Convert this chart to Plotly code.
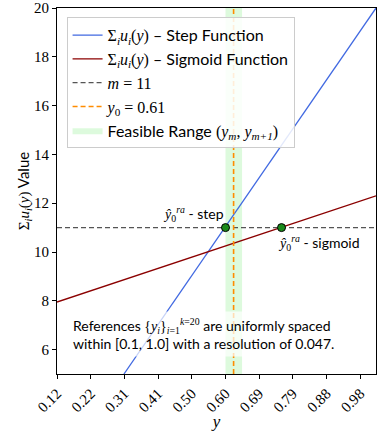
import plotly.graph_objects as go

# ---- data ----
step_x = [0.31, 1.025]
step_y = [5.0, 20.0]
sigmoid_x = [0.12, 1.025]
sigmoid_y = [7.95, 12.3]
m_level = 11
y0_pos = 0.621
band_lo, band_hi = 0.598, 0.645
crossing_x = [0.598, 0.757]
crossing_y = [11, 11]
x_tickvals = [0.12, 0.2156, 0.3111, 0.4067, 0.5022, 0.5978, 0.6933, 0.7889, 0.8844, 0.98]
x_ticktext = ["0.12", "0.22", "0.31", "0.41", "0.50", "0.60", "0.69", "0.79", "0.88", "0.98"]
y_tickvals = [6, 8, 10, 12, 14, 16, 18, 20]
x_range = [0.12, 1.025]
y_range = [5, 20]

SANS = "Lato"
SERIF = "Liberation Serif"


def m(s):
    return '<span style="font-family:%s">%s</span>' % (SERIF, s)


SUM_U = m("Σ<sub><i>i</i></sub><i>u<sub>i</sub></i>(<i>y</i>)")

fig = go.Figure()

# feasible band
fig.add_trace(go.Scatter(
    x=[band_lo, band_hi, band_hi, band_lo, band_lo],
    y=[y_range[0], y_range[0], y_range[1], y_range[1], y_range[0]],
    fill="toself", fillcolor="rgba(144,238,144,0.3)", mode="lines",
    line=dict(width=0, color="rgba(0,0,0,0)"),
    name="Feasible Range " + m("(<i>y<sub>m</sub></i>, <i>y<sub>m+1</sub></i>)"),
    legendrank=5, hoverinfo="skip"))

fig.add_trace(go.Scatter(
    x=step_x, y=step_y, mode="lines", line=dict(color="#4169e1", width=1.3),
    name=SUM_U + " – Step Function", legendrank=1))
fig.add_trace(go.Scatter(
    x=sigmoid_x, y=sigmoid_y, mode="lines", line=dict(color="#8b0000", width=1.3),
    name=SUM_U + " – Sigmoid Function", legendrank=2))
fig.add_trace(go.Scatter(
    x=x_range, y=[m_level, m_level], mode="lines",
    line=dict(color="#555555", width=1.2, dash="5px,3px"),
    name=m("<i>m</i> = 11"), legendrank=3))
fig.add_trace(go.Scatter(
    x=[y0_pos, y0_pos], y=y_range, mode="lines",
    line=dict(color="#ff8c00", width=1.6, dash="5px,3px"),
    name=m("<i>y</i><sub>0</sub> = 0.61"), legendrank=4))
fig.add_trace(go.Scatter(
    x=crossing_x, y=crossing_y, mode="markers",
    marker=dict(color="#1a8a1a", size=8, line=dict(color="black", width=1)),
    showlegend=False))

fig.add_annotation(x=crossing_x[0], y=crossing_y[0], xref="x", yref="y",
                   text=m("<i>ŷ</i><sub>0</sub><sup><i>ra</i></sup>") + " - step",
                   showarrow=False, xanchor="right", yanchor="bottom", xshift=1, yshift=2,
                   font=dict(family=SANS, size=14, color="black"))
fig.add_annotation(x=crossing_x[1], y=crossing_y[1], xref="x", yref="y",
                   text=m("<i>ŷ</i><sub>0</sub><sup><i>ra</i></sup>") + " - sigmoid",
                   showarrow=False, xanchor="left", yanchor="top", xshift=-6, yshift=-3,
                   font=dict(family=SANS, size=14, color="black"))
fig.add_annotation(x=0.035, y=0.11, xref="paper", yref="paper",
                   text="References " + m("{<i>y<sub>i</sub></i>}<sub><i>i</i>=1</sub><sup><i>k</i>=20</sup>")
                        + " are uniformly spaced<br>within [0.1, 1.0] with a resolution of 0.047.",
                   showarrow=False, xanchor="left", yanchor="middle", align="left",
                   bgcolor="rgba(255,255,255,0.7)", borderpad=4,
                   font=dict(family=SANS, size=14, color="black"))

fig.update_layout(
    width=377, height=431,
    margin=dict(l=57, r=0, t=7, b=55),
    plot_bgcolor="white", paper_bgcolor="white",
    showlegend=True,
    legend=dict(x=0.03, y=0.975, xanchor="left", yanchor="top",
                bgcolor="rgba(255,255,255,0.85)", bordercolor="#cccccc", borderwidth=1,
                font=dict(family=SANS, size=16, color="black"),
                tracegroupgap=0),
    xaxis=dict(range=x_range, tickvals=x_tickvals, ticktext=x_ticktext, tickangle=-45,
               showgrid=False, zeroline=False, showline=True, linecolor="black", linewidth=1,
               mirror=True, ticks="outside", ticklen=4, tickcolor="black",
               ticklabeloverflow="allow",
               tickfont=dict(family=SERIF, size=15, color="black"),
               title=dict(text="<i>y</i>", font=dict(family=SERIF, size=17, color="black"), standoff=4)),
    yaxis=dict(range=y_range, tickvals=y_tickvals,
               showgrid=False, zeroline=False, showline=True, linecolor="black", linewidth=1,
               mirror=True, ticks="outside", ticklen=4, tickcolor="black",
               ticklabeloverflow="allow",
               tickfont=dict(family=SERIF, size=15, color="black"),
               title=dict(text=SUM_U + " Value",
                          font=dict(family=SANS, size=15, color="black"), standoff=0)),
)

fig.write_html("out.html", config={"displayModeBar": False},
               post_script="document.body.style.margin='0';document.body.style.overflow='hidden';")
